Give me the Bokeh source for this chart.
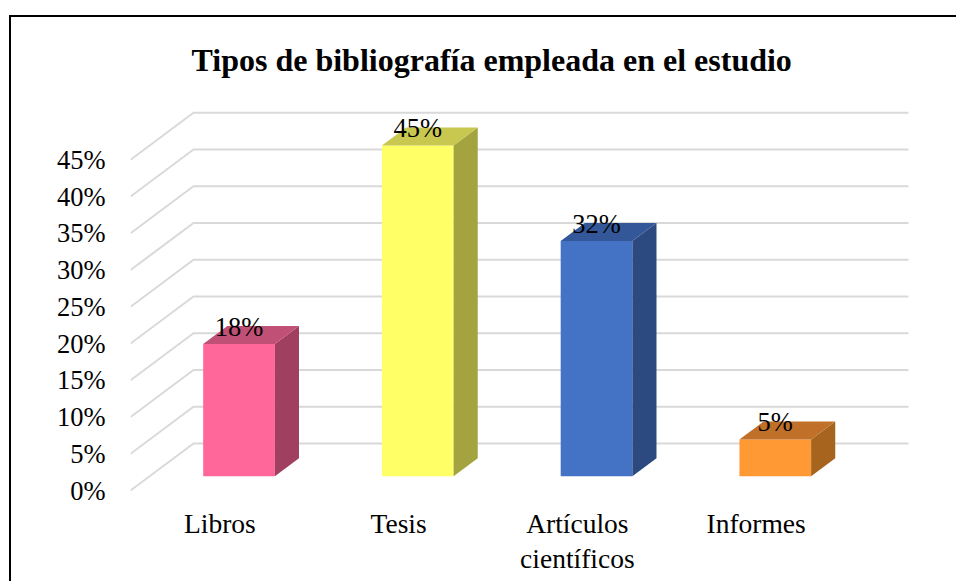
from bokeh.plotting import figure
from bokeh.models import Range1d, FixedTicker, ColumnDataSource
from bokeh.core.properties import value
from bokeh.embed import file_html
from bokeh.resources import INLINE

# ---- data ----
categories = ["Libros", "Tesis", "Artículos\ncientíficos", "Informes"]
percentages = [18, 45, 32, 5]
value_labels = ["18%", "45%", "32%", "5%"]
y_ticks = [0, 5, 10, 15, 20, 25, 30, 35, 40, 45]
y_tick_labels = ["0%", "5%", "10%", "15%", "20%", "25%", "30%", "35%", "40%", "45%"]
front_colors = ["#FF6699", "#FFFF66", "#4472C4", "#FF9933"]
side_colors = ["#A13F60", "#A3A33F", "#2C4A80", "#A6641F"]
top_colors = ["#C05075", "#C8C850", "#34579A", "#C07028"]

# ---- 3D projection geometry (pixels -> data units) ----
PX_X = 178.75          # pixels per category unit
PX_Y = 7.35            # pixels per percent
FRAME_W, FRAME_H = 800, 404
DX = 63 / PX_X         # depth offset in x (data units)
DY = 47 / PX_Y         # depth offset in y (percent)
F0 = 0.304             # bar front position (fraction of depth)
FD = 0.383             # bar depth (fraction of depth)
HALF_W = 0.2005        # half bar width (category units)
x_start = 0.5
x_end = x_start + FRAME_W / PX_X
y_start = -8 / PX_Y
y_end = y_start + FRAME_H / PX_Y
n = len(categories)
SERIF = "Liberation Serif"

OX, OY = 11, 17   # canvas origin on the page (css margins)

p = figure(frame_width=FRAME_W, frame_height=FRAME_H,
           x_range=Range1d(x_start, x_end), y_range=Range1d(y_start, y_end),
           output_backend="svg", toolbar_location=None,
           min_border_left=130 - OX, min_border_right=28,
           min_border_top=94 - OY, min_border_bottom=85)
p.outline_line_color = None
p.xgrid.visible = False
p.ygrid.visible = False
p.background_fill_color = "white"
p.border_fill_color = "white"
# chart border: left and top edges only (the rest lies beyond the view)
p.styles = {"margin-left": f"{OX}px", "margin-top": f"{OY}px",
            "box-shadow": "-2px -2px 0px 0px black"}

# title
p.title.text = "Tipos de bibliografía empleada en el estudio"
p.title.text_font = SERIF
p.title.text_font_size = "32px"
p.title.text_font_style = "bold"
p.title.text_color = "black"
p.title.align = "left"
p.title.vertical_align = "top"
p.title.offset = 61
p.title.standoff = 30

# 3D gridlines (side wall diagonal + back wall horizontal)
grid_xs = [[x_start, x_start + DX, n + 0.5 + DX] for _ in y_ticks]
grid_ys = [[t, t + DY, t + DY] for t in y_ticks]
p.multi_line(grid_xs, grid_ys, line_color="#D9D9D9", line_width=2)

# bars
cx = [i + 1 + F0 * DX for i in range(n)]
xl = [c - HALF_W for c in cx]
xr = [c + HALF_W for c in cx]
yb = [F0 * DY] * n
yt = [v + F0 * DY for v in percentages]
ddx, ddy = FD * DX, FD * DY

p.quad(left=xl, right=xr, bottom=yb, top=yt, fill_color=front_colors, line_color=None)
side_xs = [[xr[i], xr[i] + ddx, xr[i] + ddx, xr[i]] for i in range(n)]
side_ys = [[yb[i], yb[i] + ddy, yt[i] + ddy, yt[i]] for i in range(n)]
p.patches(side_xs, side_ys, fill_color=side_colors, line_color=None)
top_xs = [[xl[i], xr[i], xr[i] + ddx, xl[i] + ddx] for i in range(n)]
top_ys = [[yt[i], yt[i], yt[i] + ddy, yt[i] + ddy] for i in range(n)]
p.patches(top_xs, top_ys, fill_color=top_colors, line_color=None)

# data labels
lab_src = ColumnDataSource(dict(x=cx, y=[t + ddy for t in yt], text=value_labels))
p.text(x="x", y="y", text="text", source=lab_src, text_align="center",
       text_baseline="alphabetic", y_offset=1,
       text_font=value(SERIF), text_font_size="26.5px", text_color="black")

# axes
p.yaxis.ticker = FixedTicker(ticks=y_ticks)
p.yaxis.major_label_overrides = {t: l for t, l in zip(y_ticks, y_tick_labels)}
p.yaxis.axis_line_color = None
p.yaxis.major_tick_line_color = None
p.yaxis.minor_tick_line_color = None
p.yaxis.major_tick_out = 0
p.yaxis.major_tick_in = 0
p.yaxis.major_label_standoff = 25
p.yaxis.major_label_text_font = SERIF
p.yaxis.major_label_text_font_size = "26.5px"
p.yaxis.major_label_text_color = "black"

x_pos = list(range(1, n + 1))
p.xaxis.ticker = FixedTicker(ticks=x_pos)
p.xaxis.major_label_overrides = {x: c for x, c in zip(x_pos, categories)}
p.xaxis.axis_line_color = None
p.xaxis.major_tick_line_color = None
p.xaxis.minor_tick_line_color = None
p.xaxis.major_tick_out = 0
p.xaxis.major_tick_in = 0
p.xaxis.major_label_standoff = 9
p.xaxis.major_label_text_font = SERIF
p.xaxis.major_label_text_font_size = "27.5px"
p.xaxis.major_label_text_line_height = 1.13
p.xaxis.major_label_text_color = "black"

open("out.html", "w").write(file_html(p, INLINE))
